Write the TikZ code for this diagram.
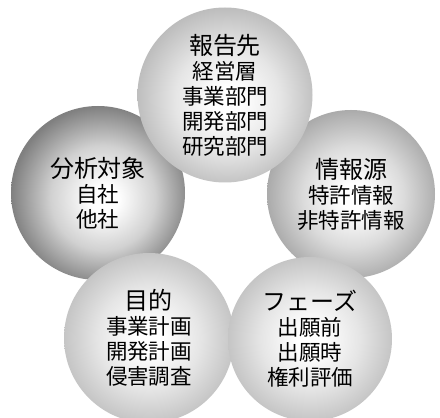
\documentclass[tikz,border=0pt]{standalone}
\usepackage{fontspec}
\newfontfamily\jp{Noto Sans CJK JP}
\definecolor{edgeA}{gray}{0.50}
\definecolor{midA}{gray}{0.82}
\definecolor{edgeB}{gray}{0.74}
\definecolor{midB}{gray}{0.90}
\definecolor{edgeC}{gray}{0.66}
\definecolor{midC}{gray}{0.86}
\definecolor{edgeD}{gray}{0.76}
\definecolor{midD}{gray}{0.90}
\pgfdeclareradialshading{sphA}{\pgfpoint{2bp}{-2bp}}{color(0bp)=(white); color(4bp)=(white); color(15bp)=(midA); color(26bp)=(edgeA); color(50bp)=(edgeA)}
\pgfdeclareradialshading{sphB}{\pgfpoint{1bp}{-2bp}}{color(0bp)=(white); color(4bp)=(white); color(15bp)=(midB); color(26bp)=(edgeB); color(50bp)=(edgeB)}
\pgfdeclareradialshading{sphC}{\pgfpoint{1bp}{-1bp}}{color(0bp)=(white); color(4bp)=(white); color(15bp)=(midC); color(26bp)=(edgeC); color(50bp)=(edgeC)}
\pgfdeclareradialshading{sphD}{\pgfpoint{0bp}{0bp}}{color(0bp)=(white); color(4bp)=(white); color(15bp)=(midD); color(26bp)=(edgeD); color(50bp)=(edgeD)}
\tikzset{
  ball/.style={circle, inner sep=0pt, align=center, text=black,
    font=\jp\fontsize{21.5}{25}\selectfont},
}
\newcommand{\ttl}[1]{{\fontsize{24}{25}\selectfont #1}}
\begin{document}
\begin{tikzpicture}[x=1pt,y=1pt]
\fill[white] (0,0) rectangle (440,418);
\useasboundingbox (0,0) rectangle (440,418);
% y_tikz = 418 - y_px
\node[ball, minimum size=174pt, shading=sphA] (bunseki) at (98,225) {\ttl{分析対象}\\自社\\他社};
\node[ball, minimum size=168pt, shading=sphC] (joho) at (351,224) {\ttl{情報源}\\特許情報\\非特許情報};
\node[ball, minimum size=175pt, shading=sphB] (hokoku) at (225,323) {\ttl{報告先}\\経営層\\事業部門\\開発部門\\研究部門};
\node[ball, minimum size=170pt, shading=sphD] (mokuteki) at (149,80) {\ttl{目的}\\事業計画\\開発計画\\侵害調査};
\node[ball, minimum size=164pt, shading=sphD] (phase) at (310,79) {\ttl{フェーズ}\\出願前\\出願時\\権利評価};
\end{tikzpicture}
\end{document}
